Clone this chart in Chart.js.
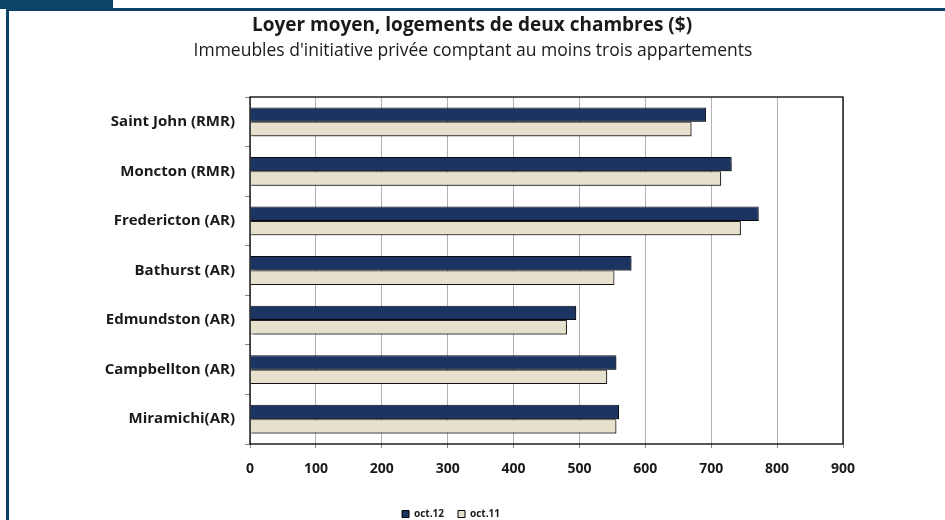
<!DOCTYPE html>
<html>
<head>
<meta charset="utf-8">
<script src="https://cdn.jsdelivr.net/npm/chart.js@4/dist/chart.umd.min.js"></script>
<style>
  html, body { margin: 0; padding: 0; background: #fff; }
  #wrap { position: relative; width: 945px; height: 520px; overflow: hidden; }
  #tab { position: absolute; left: 0; top: 0; width: 113px; height: 9px; background: #0b4468; }
  #topline { position: absolute; left: 6px; top: 8px; width: 939px; height: 3px; background: #0b4468; }
  #leftline { position: absolute; left: 6px; top: 8px; width: 3px; height: 512px; background: #0b4468; }
  #c { position: absolute; left: 0; top: 0; }
</style>
</head>
<body>
<div id="wrap">
  <canvas id="c" width="945" height="520"></canvas>
  <div id="tab"></div>
  <div id="topline"></div>
  <div id="leftline"></div>
</div>
<script>
const categories = ["Saint John (RMR)", "Moncton (RMR)", "Fredericton (AR)", "Bathurst (AR)", "Edmundston (AR)", "Campbellton (AR)", "Miramichi(AR)"];
const oct12 = [692, 731, 772, 579, 495, 556, 560];
const oct11 = [670, 715, 745, 553, 481, 542, 556];
const seriesNames = ["oct.12", "oct.11"];
const titleText = "Loyer moyen, logements de deux chambres ($)";
const subtitleText = "Immeubles d'initiative privée comptant au moins trois appartements";

const FONT = "'Open Sans', Lato, sans-serif";

const titlePlugin = {
  id: 'centerTitle',
  afterDraw(chart) {
    const ctx = chart.ctx;
    ctx.save();
    ctx.fillStyle = '#1a1a1a';
    ctx.textAlign = 'center';
    ctx.textBaseline = 'alphabetic';
    ctx.font = "bold 19px " + FONT;
    ctx.fillText(titleText, 472, 31);
    ctx.font = "17.5px " + FONT;
    ctx.fillText(subtitleText, 473, 56);
    ctx.restore();
  }
};

const shadowPlugin = {
  id: 'barShadow',
  beforeDatasetsDraw(chart) {
    const ctx = chart.ctx;
    ctx.save();
    ctx.shadowColor = 'rgba(0,0,0,0.45)';
    ctx.shadowOffsetX = 1.5;
    ctx.shadowOffsetY = 1.5;
    ctx.shadowBlur = 1;
  },
  afterDatasetsDraw(chart) {
    chart.ctx.restore();
  }
};

const borderPlugin = {
  id: 'plotBorder',
  afterDraw(chart) {
    const a = chart.chartArea, ctx = chart.ctx;
    ctx.save();
    ctx.strokeStyle = '#000';
    ctx.lineWidth = 1.3;
    ctx.strokeRect(a.left, a.top, a.right - a.left, a.bottom - a.top);
    ctx.restore();
  }
};

new Chart(document.getElementById('c'), {
  type: 'bar',
  data: {
    labels: categories,
    datasets: [
      { label: seriesNames[0], data: oct12, backgroundColor: '#1c3461', borderColor: '#0a0a14', borderWidth: 1, barPercentage: 1, categoryPercentage: 0.58 },
      { label: seriesNames[1], data: oct11, backgroundColor: '#e6e1cc', borderColor: '#222', borderWidth: 1, barPercentage: 1, categoryPercentage: 0.58 }
    ]
  },
  options: {
    indexAxis: 'y',
    responsive: false,
    animation: false,
    devicePixelRatio: 1,
    layout: { padding: { top: 97, left: 59, right: 102, bottom: -9 } },
    plugins: {
      title: { display: false },
      legend: {
        position: 'bottom',
        labels: {
          color: '#1a1a1a',
          font: { family: FONT, size: 10, weight: 'bold' },
          boxWidth: 7, boxHeight: 7, padding: 14,
          generateLabels(chart) {
            return chart.data.datasets.map((d, i) => ({
              text: d.label, fillStyle: d.backgroundColor, strokeStyle: '#000', lineWidth: 1,
              hidden: false, datasetIndex: i, fontColor: '#1a1a1a'
            }));
          }
        }
      },
      tooltip: { enabled: false }
    },
    scales: {
      x: {
        min: 0, max: 900,
        ticks: { stepSize: 100, color: '#1a1a1a', font: { family: FONT, size: 14, weight: 'bold' }, padding: 13 },
        grid: { color: '#b0b0b0', lineWidth: 1, tickLength: 4, tickColor: '#888' },
        border: { display: false },
        afterFit(s) { s.height = 51; }
      },
      y: {
        ticks: { color: '#1a1a1a', font: { family: FONT, size: 15, weight: 'bold' }, padding: 10 },
        grid: { drawOnChartArea: false, offset: true, tickLength: 5, color: '#888' },
        border: { display: false },
        afterFit(s) { s.width = 191; }
      }
    }
  },
  plugins: [shadowPlugin, borderPlugin, titlePlugin]
});
</script>
</body>
</html>
